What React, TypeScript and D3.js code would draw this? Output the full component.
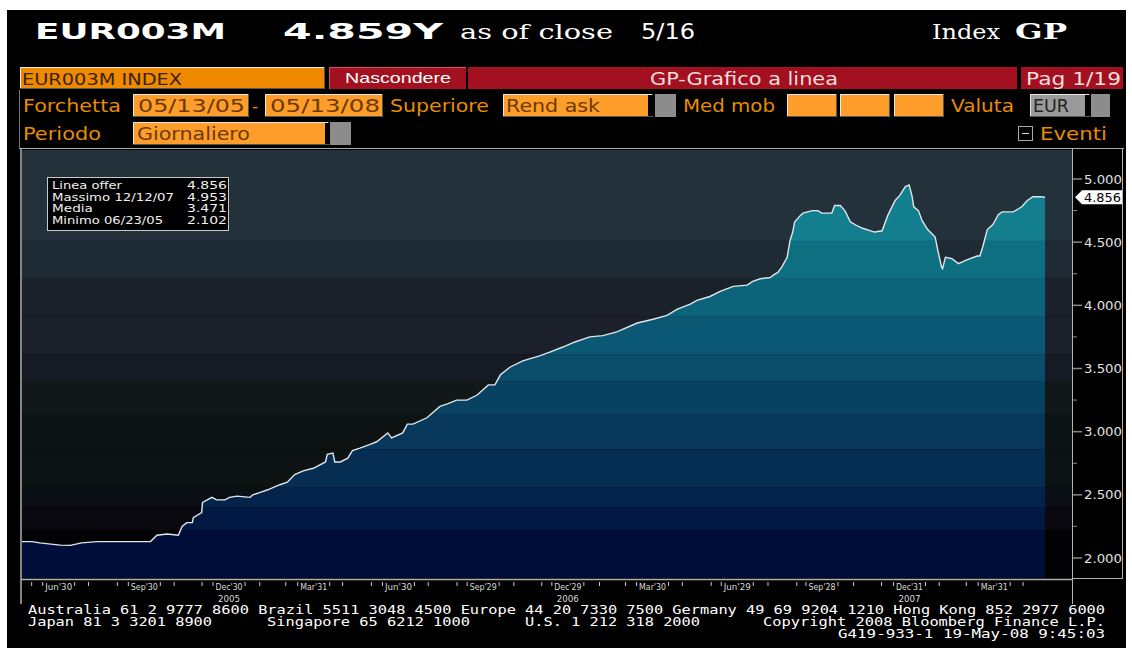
import React from 'react';
import * as d3 from 'd3';

// ---- data (days since START, EUR003M rate) ----
const START = '2005-05-13';
const END = '2008-05-16';
const dayOffsets = [
  0, 11, 19, 41, 52, 64, 81, 138, 145, 156, 168, 172, 177, 183, 184, 193, 194, 204, 209, 218,
  223, 231, 245, 248, 256, 264, 277, 285, 293, 302, 313, 326, 328, 334, 336, 342, 350, 355, 363, 374,
  381, 393, 397, 409, 414, 420, 435, 449, 457, 467, 478, 489, 501, 508, 514, 524, 538, 556, 567, 581,
  594, 610, 624, 639, 661, 678, 693, 704, 718, 725, 739, 750, 764, 779, 785, 793, 804, 807, 812, 816,
  822, 825, 828, 830, 836, 839, 849, 855, 859, 870, 873, 879, 884, 890, 897, 903, 916, 924, 930, 938,
  943, 949, 953, 956, 958, 963, 967, 973, 981, 984, 988, 989, 992, 999, 1006, 1015, 1026, 1029, 1032, 1037,
  1043, 1049, 1053, 1065, 1074, 1080, 1086, 1094, 1099,
];
const rates = [
  2.13, 2.13, 2.12, 2.102, 2.10, 2.12, 2.13, 2.13, 2.18, 2.19, 2.18, 2.25, 2.28, 2.28, 2.32, 2.36, 2.44, 2.48, 2.46, 2.46,
  2.48, 2.49, 2.48, 2.50, 2.52, 2.54, 2.58, 2.60, 2.66, 2.69, 2.71, 2.76, 2.82, 2.83, 2.76, 2.76, 2.79, 2.85, 2.87, 2.90,
  2.92, 2.99, 2.95, 2.99, 3.06, 3.06, 3.11, 3.20, 3.22, 3.25, 3.25, 3.29, 3.37, 3.37, 3.45, 3.51, 3.56, 3.60, 3.63, 3.67,
  3.71, 3.75, 3.76, 3.79, 3.86, 3.89, 3.92, 3.97, 4.01, 4.04, 4.07, 4.11, 4.15, 4.16, 4.19, 4.21, 4.22, 4.24, 4.26, 4.30,
  4.38, 4.51, 4.58, 4.66, 4.71, 4.73, 4.75, 4.75, 4.73, 4.73, 4.79, 4.79, 4.75, 4.66, 4.63, 4.61, 4.58, 4.59, 4.71, 4.83,
  4.87, 4.94, 4.953, 4.87, 4.78, 4.75, 4.67, 4.60, 4.54, 4.43, 4.30, 4.29, 4.38, 4.37, 4.33, 4.36, 4.39, 4.39, 4.46, 4.60,
  4.64, 4.72, 4.74, 4.74, 4.78, 4.83, 4.86, 4.86, 4.856,
];
const lastValue = 4.856;

const yTicks = [2.0, 2.5, 3.0, 3.5, 4.0, 4.5, 5.0];
const yMinorTicks = [2.25, 2.75, 3.25, 3.75, 4.25, 4.75];
const xTickLabels = ["Jun'30", "Sep'30", "Dec'30", "Mar'31", "Jun'30", "Sep'29", "Dec'29", "Mar'30", "Jun'29", "Sep'28", "Dec'31", "Mar'31"];
const xTickDates = ['2005-06-30', '2005-09-30', '2005-12-30', '2006-03-31', '2006-06-30', '2006-09-29', '2006-12-29', '2007-03-30', '2007-06-29', '2007-09-28', '2007-12-31', '2008-03-31'];
const yearLabels = ['2005', '2006', '2007'];
const yearDates = ['2005-12-30', '2006-12-29', '2007-12-31'];
const statsLabels = ['Linea offer', 'Massimo 12/12/07', 'Media', 'Minimo 06/23/05'];
const statsValues = ['4.856', '4.953', '3.471', '2.102'];

// background / fill band edges (values)
const bandEdges = [5.3, 4.51, 4.21, 3.91, 3.61, 3.40, 3.14, 2.86, 2.56, 2.40, 2.22, 1.8];
const bgColors = ['#22313a', '#1f2b34', '#1b212b', '#1b202a', '#161b23', '#121818', '#0d1212', '#0d1212', '#0b0e14', '#09090f', '#030305'];
const fillColors = ['#137e8d', '#0e6f80', '#0b6479', '#0a5873', '#094d6b', '#084263', '#07385b', '#062d52', '#04234a', '#021a43', '#000d38'];

const parse = d3.timeParse('%Y-%m-%d');

const SANS = 'DejaVu Sans, Verdana, sans-serif';
const ORANGE_TXT = '#e88c00';
const BOX = '#ff9d2a';
const RED = '#a3101f';

export default function App() {
  const start = parse(START)!;
  const end = parse(END)!;
  const data = dayOffsets.map((d, i) => ({ date: d3.timeDay.offset(start, d), v: rates[i] }));

  const plot = { left: 22, right: 1072, top: 150, bottom: 578 };
  const x = d3.scaleTime().domain([start, end]).range([22, 1045]);
  const y = d3.scaleLinear().domain([2.0, 5.0]).range([558, 179]);

  const area = d3.area<{ date: Date; v: number }>().x(d => x(d.date)).y0(plot.bottom).y1(d => y(d.v));
  const line = d3.line<{ date: Date; v: number }>().x(d => x(d.date)).y(d => y(d.v));

  const labelShift = -8;
  const labelXs = xTickDates.map(d => x(parse(d)!) + labelShift);
  const months = d3.timeMonth.range(d3.timeMonth.ceil(start), end).map(m => x(m) + labelShift)
    .filter(mx => labelXs.every(lx => Math.abs(lx - mx) > 15) && mx > plot.left && mx < plot.right);

  const bandRects = (colors: string[]) =>
    colors.map((c, i) => {
      const y0 = Math.max(plot.top, y(bandEdges[i]));
      const y1 = Math.min(plot.bottom, y(bandEdges[i + 1]));
      return <rect key={i} x={plot.left} y={y0} width={plot.right - plot.left} height={Math.max(0, y1 - y0)} fill={c} />;
    });

  const yv = y(lastValue);

  const box = (x0: number, y0: number, w: number, h: number, fill: string, key: string) => (
    <g key={key}>
      <rect x={x0} y={y0} width={w} height={h} fill={fill} />
      <path d={`M${x0 + 0.5},${y0 + h} V${y0 + 0.5} H${x0 + w}`} stroke="#e8e8e8" strokeWidth={1} fill="none" />
      <path d={`M${x0 + w - 0.5},${y0} V${y0 + h - 0.5} H${x0}`} stroke="#555" strokeWidth={1} fill="none" />
    </g>
  );

  return (
    <svg width={1132} height={653} style={{ position: 'absolute', left: 0, top: 0, display: 'block' }}>
      <rect x={0} y={0} width={1132} height={653} fill="#fff" />
      <rect x={7} y={10} width={1119} height={638} fill="#000" />

      {/* header */}
      <g fill="#fff">
        <text x={35} y={39} fontFamily={SANS} fontWeight="bold" fontSize={22} textLength={191} lengthAdjust="spacingAndGlyphs">EUR003M</text>
        <text x={283} y={39} fontFamily={SANS} fontWeight="bold" fontSize={22} textLength={160} lengthAdjust="spacingAndGlyphs">4.859Y</text>
        <text x={460} y={39} fontFamily="DejaVu Serif, serif" fontSize={21} textLength={153} lengthAdjust="spacingAndGlyphs">as of close</text>
        <text x={641} y={39} fontFamily={SANS} fontSize={21} textLength={54} lengthAdjust="spacingAndGlyphs">5/16</text>
        <text x={932} y={39} fontFamily="DejaVu Serif, serif" fontSize={21} textLength={68} lengthAdjust="spacingAndGlyphs">Index</text>
        <text x={1015} y={39} fontFamily="DejaVu Serif, serif" fontWeight="bold" fontSize={22} textLength={52} lengthAdjust="spacingAndGlyphs">GP</text>
      </g>

      {/* row 1 */}
      {box(20, 67, 305, 22, '#ef8a00', 'b1')}
      <text x={22} y={85} fontFamily={SANS} fontSize={16} fill="#3a2300" textLength={160} lengthAdjust="spacingAndGlyphs">EUR003M INDEX</text>
      <rect x={329} y={67} width={137} height={22} fill={RED} />
      <path d="M329.5,89 V67.5 H466" stroke="#d85060" fill="none" />
      <text x={398} y={83} textAnchor="middle" fontFamily="Liberation Sans, Arial, sans-serif" fontSize={15} fill="#fff" textLength={106} lengthAdjust="spacingAndGlyphs">Nascondere</text>
      <rect x={468} y={67} width={549} height={22} fill={RED} />
      <text x={650} y={85} fontFamily={SANS} fontSize={17} fill="#f3dede" textLength={188} lengthAdjust="spacingAndGlyphs">GP-Grafico a linea</text>
      <rect x={1021} y={67} width={102} height={22} fill={RED} />
      <text x={1026} y={85} fontFamily={SANS} fontSize={17} fill="#f3dede" textLength={95} lengthAdjust="spacingAndGlyphs">Pag 1/19</text>

      {/* row 2 */}
      <g fontFamily={SANS} fontSize={17}>
        <text x={23} y={112} fill={ORANGE_TXT} textLength={98} lengthAdjust="spacingAndGlyphs">Forchetta</text>
        {box(133, 94, 116, 23, BOX, 'b2')}
        <text x={138} y={112} fill="#6a3a00" textLength={107} lengthAdjust="spacingAndGlyphs">05/13/05</text>
        <text x={252} y={112} fill={ORANGE_TXT}>-</text>
        {box(265, 94, 118, 23, BOX, 'b3')}
        <text x={270} y={112} fill="#6a3a00" textLength={110} lengthAdjust="spacingAndGlyphs">05/13/08</text>
        <text x={390} y={112} fill={ORANGE_TXT} textLength={99} lengthAdjust="spacingAndGlyphs">Superiore</text>
        {box(503, 94, 150, 23, BOX, 'b4')}
        <rect x={648} y={95} width={5} height={21} fill="#000" />
        <rect x={655} y={94} width={21} height={23} fill="#8c8c8c" />
        <text x={506} y={112} fill="#6a3a00" textLength={94} lengthAdjust="spacingAndGlyphs">Rend ask</text>
        <text x={683} y={112} fill={ORANGE_TXT} textLength={92} lengthAdjust="spacingAndGlyphs">Med mob</text>
        {box(787, 94, 50, 23, BOX, 'b5')}
        {box(840, 94, 50, 23, BOX, 'b6')}
        {box(894, 94, 50, 23, BOX, 'b7')}
        <text x={951} y={112} fill={ORANGE_TXT} textLength={63} lengthAdjust="spacingAndGlyphs">Valuta</text>
        {box(1030, 94, 60, 23, '#9a9a9a', 'b8')}
        <rect x={1085} y={95} width={5} height={21} fill="#000" />
        <rect x={1091} y={94} width={19} height={23} fill="#8c8c8c" />
        <text x={1033} y={112} fill="#222" textLength={36} lengthAdjust="spacingAndGlyphs">EUR</text>

        {/* row 3 */}
        <text x={23} y={140} fill={ORANGE_TXT} textLength={78} lengthAdjust="spacingAndGlyphs">Periodo</text>
        {box(133, 122, 196, 23, BOX, 'b9')}
        <rect x={325} y={123} width={5} height={21} fill="#000" />
        <rect x={330} y={122} width={21} height={23} fill="#8c8c8c" />
        <text x={137} y={140} fill="#6a3a00" textLength={113} lengthAdjust="spacingAndGlyphs">Giornaliero</text>
        <rect x={1018.5} y={126.5} width={14} height={14} fill="#000" stroke="#aaa" />
        <line x1={1022} x2={1029} y1={133.5} y2={133.5} stroke="#ddd" />
        <text x={1040} y={140} fill={ORANGE_TXT} textLength={67} lengthAdjust="spacingAndGlyphs">Eventi</text>
      </g>

      {/* frame lines */}
      <line x1={19.5} x2={19.5} y1={90} y2={148} stroke="#777" />
      <line x1={19} x2={1124} y1={148.5} y2={148.5} stroke="#aaa" />

      {/* plot */}
      <defs>
        <clipPath id="areaClip">
          <path d={area(data)!} />
        </clipPath>
      </defs>
      {bandRects(bgColors)}
      <g clipPath="url(#areaClip)">{bandRects(fillColors)}</g>
      <path d={line(data)!} fill="none" stroke="#dfe6ea" strokeWidth={1.4} />

      {/* borders */}
      <line x1={21} x2={21} y1={149} y2={604} stroke="#b0b0b0" strokeWidth={1.5} />
      <line x1={1072.5} x2={1072.5} y1={149} y2={604} stroke="#b0b0b0" />
      <line x1={1122.5} x2={1122.5} y1={149} y2={578} stroke="#b0b0b0" />
      <line x1={1072} x2={1123} y1={578.5} y2={578.5} stroke="#b0b0b0" />
      <line x1={21} x2={1072} y1={579.5} y2={579.5} stroke="#b0b0b0" strokeWidth={1.5} />

      {/* y axis */}
      {yTicks.map(t => (
        <g key={t}>
          <line x1={1073} x2={1082} y1={y(t)} y2={y(t)} stroke="#888" strokeWidth={1.5} />
          <text x={1084} y={y(t) + 4.5} fontFamily={SANS} fontSize={12} fill="#e0e0e0" textLength={38} lengthAdjust="spacingAndGlyphs">{t.toFixed(3)}</text>
        </g>
      ))}
      {yMinorTicks.map(t => (
        <line key={t} x1={1073} x2={1077} y1={y(t)} y2={y(t)} stroke="#888" />
      ))}
      <path d={`M1075,${yv} L1082,${yv - 7} H1122 V${yv + 7} H1082 Z`} fill="#fff" />
      <text x={1084} y={yv + 4.5} fontFamily={SANS} fontSize={12} fill="#000" textLength={37} lengthAdjust="spacingAndGlyphs">{lastValue.toFixed(3)}</text>

      {/* x axis */}
      {months.map((mx, i) => (
        <line key={i} x1={mx} x2={mx} y1={582} y2={586} stroke="#ccc" />
      ))}
      {xTickLabels.map((l, i) => (
        <g key={i}>
          <line x1={labelXs[i] - 16} x2={labelXs[i] - 16} y1={582} y2={586} stroke="#ccc" />
          <line x1={labelXs[i] + 16} x2={labelXs[i] + 16} y1={582} y2={586} stroke="#ccc" />
          <text x={labelXs[i]} y={590} textAnchor="middle" fontFamily={SANS} fontSize={8} fill="#dcdcdc" textLength={27} lengthAdjust="spacingAndGlyphs">{l}</text>
        </g>
      ))}
      {yearLabels.map((l, i) => (
        <text key={l} x={x(parse(yearDates[i])!) + labelShift} y={602} textAnchor="middle" fontFamily={SANS} fontSize={8} fill="#dcdcdc" textLength={22} lengthAdjust="spacingAndGlyphs">{l}</text>
      ))}

      {/* stats legend */}
      <rect x={47.5} y={177.5} width={181} height={53} fill="#000" stroke="#c8c8c8" />
      {statsLabels.map((l, i) => (
        <g key={l} fontFamily={SANS} fontSize={10.5} fill="#f0f0f0">
          <text x={52} y={189 + i * 11.5} textLength={[70, 122, 41, 111][i]} lengthAdjust="spacingAndGlyphs">{l}</text>
          <text x={227} y={189 + i * 11.5} textAnchor="end" textLength={40} lengthAdjust="spacingAndGlyphs">{statsValues[i]}</text>
        </g>
      ))}

      {/* footer */}
      <g fontFamily="DejaVu Sans Mono, monospace" fontSize={12} fill="#fff">
        <text x={28} y={614} textLength={1077} lengthAdjust="spacingAndGlyphs">Australia 61 2 9777 8600 Brazil 5511 3048 4500 Europe 44 20 7330 7500 Germany 49 69 9204 1210 Hong Kong 852 2977 6000</text>
        <text x={28} y={626} textLength={184} lengthAdjust="spacingAndGlyphs">Japan 81 3 3201 8900</text>
        <text x={267} y={626} textLength={203} lengthAdjust="spacingAndGlyphs">Singapore 65 6212 1000</text>
        <text x={525} y={626} textLength={175} lengthAdjust="spacingAndGlyphs">U.S. 1 212 318 2000</text>
        <text x={763} y={626} textLength={342} lengthAdjust="spacingAndGlyphs">Copyright 2008 Bloomberg Finance L.P.</text>
        <text x={838} y={638} textLength={267} lengthAdjust="spacingAndGlyphs">G419-933-1 19-May-08  9:45:03</text>
      </g>
    </svg>
  );
}
